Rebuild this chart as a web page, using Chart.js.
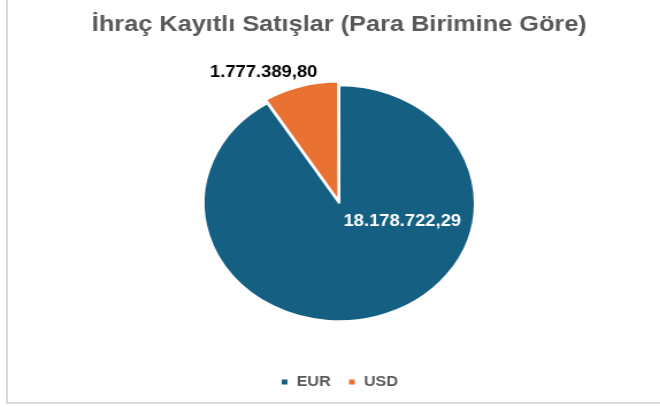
<!DOCTYPE html>
<html>
<head>
<meta charset="utf-8">
<script src="https://cdn.jsdelivr.net/npm/chart.js@4.4.1/dist/chart.umd.min.js"></script>
<style>
    html, body {
        margin: 0;
        padding: 0;
        background: #ffffff;
    }
    .page {
        position: relative;
        width: 660px;
        height: 407px;
        overflow: hidden;
    }
    .frame {
        position: absolute;
        left: 6px;
        top: -4px;
        width: 700px;
        height: 408px;
        border-left: 2px solid #d9d9d9;
        border-bottom: 2px solid #d9d9d9;
        box-sizing: border-box;
    }
    /* the source picture is stretched sideways, so stretch the canvas too */
    .stretch {
        position: absolute;
        left: 0;
        top: 0;
        transform: scaleX(1.15);
        transform-origin: 0 0;
    }
</style>
</head>
<body>
<div class="page">
    <div class="frame"></div>
    <div class="stretch">
        <canvas id="salesChart" width="574" height="407"></canvas>
    </div>
</div>

<script>
// Chart data
const categories = ['EUR', 'USD'];
const salesValues = [18178722.29, 1777389.80];
const valueLabels = ['18.178.722,29', '1.777.389,80'];

const sliceColors = ['#156082', '#E97132'];

// Where Excel put each data label (angle in degrees, distance as share of radius)
const labelPlacement = [
    { angle: 18.6, dist: 0.49, color: '#ffffff' },
    { angle: -116.7, dist: 1.24, color: '#000000' }
];

// Draw the value labels on / beside the slices
const valueLabelPlugin = {
    id: 'valueLabels',
    afterDatasetsDraw(chart) {
        const ctx = chart.ctx;
        const meta = chart.getDatasetMeta(0);
        ctx.save();
        ctx.font = 'bold 16px "Liberation Sans", Arial, sans-serif';
        ctx.textAlign = 'center';
        ctx.textBaseline = 'middle';
        meta.data.forEach((arc, i) => {
            const props = arc.getProps(['x', 'y', 'outerRadius'], true);
            const place = labelPlacement[i];
            const a = place.angle * Math.PI / 180;
            const r = props.outerRadius * place.dist;
            ctx.fillStyle = place.color;
            ctx.fillText(valueLabels[i], props.x + Math.cos(a) * r, props.y + Math.sin(a) * r);
        });
        ctx.restore();
    }
};

const ctx = document.getElementById('salesChart').getContext('2d');
const salesChart = new Chart(ctx, {
    type: 'pie',
    data: {
        labels: categories,
        datasets: [{
            data: salesValues,
            backgroundColor: sliceColors,
            borderColor: '#ffffff',
            borderWidth: 2,
            offset: [0, 10],
            radius: 118
        }]
    },
    options: {
        responsive: false,
        animation: false,
        layout: {
            padding: { left: 16, right: 0, top: 0, bottom: 8 }
        },
        plugins: {
            title: {
                display: true,
                text: 'İhraç Kayıtlı Satışlar (Para Birimine Göre)',
                color: '#595959',
                font: { family: '"Liberation Sans", Arial, sans-serif', size: 22, weight: 'bold' },
                padding: { top: 12, bottom: 8 }
            },
            legend: {
                position: 'bottom',
                labels: {
                    color: '#595959',
                    font: { family: '"Liberation Sans", Arial, sans-serif', size: 14, weight: 'bold' },
                    boxWidth: 7,
                    boxHeight: 7,
                    padding: 15
                }
            },
            tooltip: { enabled: false }
        }
    },
    plugins: [valueLabelPlugin]
});
</script>
</body>
</html>
